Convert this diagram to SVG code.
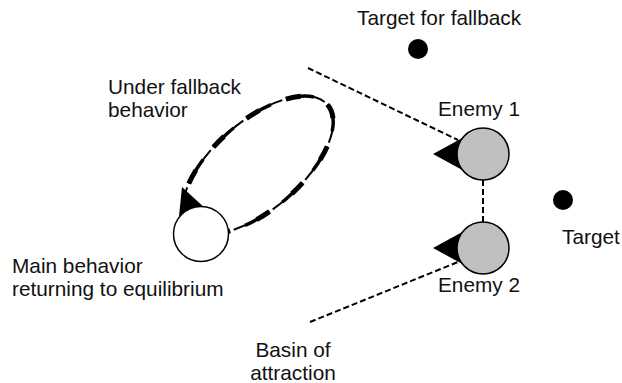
<svg xmlns="http://www.w3.org/2000/svg" width="622" height="383" viewBox="0 0 622 383">
<style>
text{font-family:"Liberation Sans",Arial,sans-serif;font-size:20.8px;fill:#111}
.dash{fill:none;stroke:#000;stroke-width:2;stroke-dasharray:6 3}
.loop{fill:none;stroke:#000;stroke-linecap:butt}
.enemy{fill:#c0c0c0;stroke:#000;stroke-width:1.5}
.dot{fill:#000}
</style>
<defs>
<ellipse id="loopPath" cx="258" cy="165" rx="92" ry="44" transform="rotate(-41 258 165)"/>
</defs>
<rect width="622" height="383" fill="#fff"/>
<g id="connectors">
<line class="dash" x1="308" y1="68" x2="458" y2="140"/>
<line class="dash" x1="310" y1="322" x2="458" y2="262"/>
<line class="dash" x1="483" y1="180" x2="483" y2="222"/>
<use href="#loopPath" class="loop" stroke-width="2" stroke-dasharray="40 4"/>
<use href="#loopPath" class="loop" stroke-width="3.5" stroke-dasharray="28 16"/>
<use href="#loopPath" class="loop" stroke-width="5" stroke-dasharray="15 29"/>
<polygon points="182,187 179,216 207,210" fill="#000"/>
<polygon points="433,154 466,136 466,172" fill="#000"/>
<polygon points="433,248 466,230 466,266" fill="#000"/>
</g>
<g id="main">
<circle cx="201" cy="234" r="27.5" fill="#fff" stroke="#000" stroke-width="1.5"/>
<text x="12" y="273">Main behavior</text>
<text x="12" y="296">returning to equilibrium</text>
</g>
<g id="fallback-label">
<text x="108" y="94">Under fallback</text>
<text x="108" y="117">behavior</text>
</g>
<g id="enemy1">
<circle class="enemy" cx="483" cy="154" r="26"/>
<text x="438" y="116">Enemy 1</text>
</g>
<g id="enemy2">
<circle class="enemy" cx="483" cy="248" r="26"/>
<text x="438" y="292">Enemy 2</text>
</g>
<g id="target-fallback">
<circle class="dot" cx="418" cy="49" r="10"/>
<text x="357" y="25">Target for fallback</text>
</g>
<g id="target">
<circle class="dot" cx="563" cy="200" r="10"/>
<text x="562" y="244">Target</text>
</g>
<g id="basin">
<text x="293" y="357" text-anchor="middle">Basin of</text>
<text x="293" y="380" text-anchor="middle">attraction</text>
</g>
</svg>
